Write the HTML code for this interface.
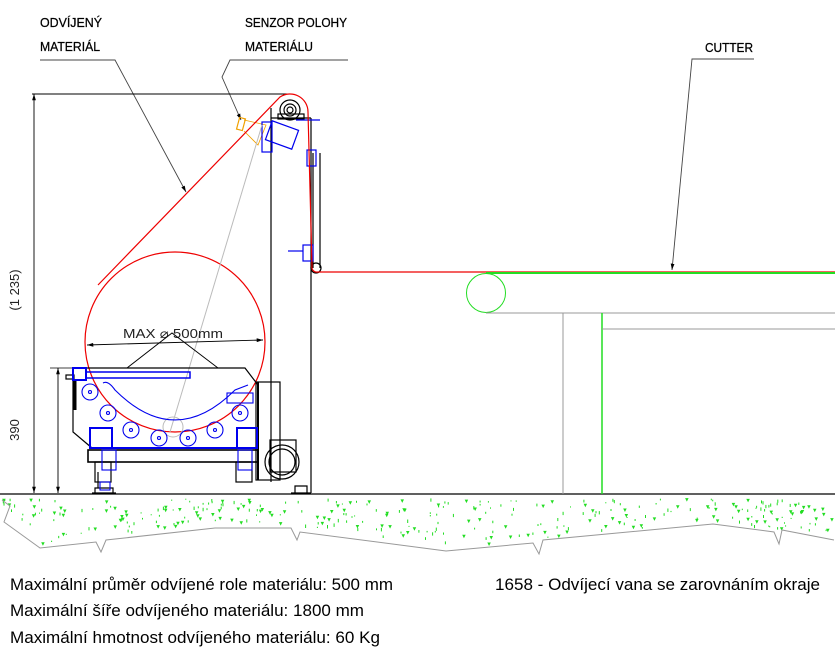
<!DOCTYPE html>
<html><head><meta charset="utf-8"><style>
html,body{margin:0;padding:0;background:#fff}
svg{display:block}
text{font-family:"Liberation Sans",Arial,sans-serif}
</style></head><body>
<svg id="s" width="835" height="663" viewBox="0 0 835 663" xmlns="http://www.w3.org/2000/svg">
<defs>
<marker id="a" viewBox="0 0 10 10" refX="10" refY="5" markerWidth="7" markerHeight="7" orient="auto-start-reverse"><path d="M0,2 L10,5 L0,8 z" fill="#000"/></marker>
</defs>
<g id="dots"></g>
<!-- ground -->
<line x1="0" y1="494" x2="835" y2="494" stroke="#000" stroke-width="1.3"/>
<polyline fill="none" stroke="#999" stroke-width="1" points="2,500 10,506 4,522 40,548 96,542 101,552 106,540 215,528 291,528 297,540 300,532 446,551 533,543 539,554 543,540 713,524 774,532 779,544 782,530 834,540"/>

<!-- labels -->
<g font-size="12.5" fill="#000" stroke="#000" stroke-width="0.25">
<text x="40" y="27" textLength="62" lengthAdjust="spacingAndGlyphs">ODVÍJENÝ</text>
<text x="40" y="51" textLength="60" lengthAdjust="spacingAndGlyphs">MATERIÁL</text>
<text x="245" y="27" textLength="102" lengthAdjust="spacingAndGlyphs">SENZOR POLOHY</text>
<text x="245" y="51" textLength="68" lengthAdjust="spacingAndGlyphs">MATERIÁLU</text>
<text x="705" y="52" textLength="48" lengthAdjust="spacingAndGlyphs">CUTTER</text>
</g>
<g stroke="#444" stroke-width="0.9" fill="none">
<polyline points="40,60 115,60 186,192" marker-end="url(#a)"/>
<polyline points="348,60 230,60 222,77 241,120" marker-end="url(#a)"/>
<polyline points="754,59 692,59 672,270" marker-end="url(#a)"/>
</g>

<!-- dimensions -->
<line x1="32" y1="94" x2="290" y2="94" stroke="#000" stroke-width="1"/>
<line x1="34" y1="94" x2="34" y2="493" stroke="#000" stroke-width="0.9" marker-start="url(#a)" marker-end="url(#a)"/>
<line x1="58" y1="368" x2="58" y2="493" stroke="#000" stroke-width="0.9" marker-start="url(#a)" marker-end="url(#a)"/>
<line x1="50" y1="368" x2="73" y2="368" stroke="#000" stroke-width="0.8"/>
<text transform="translate(19,290) rotate(-90)" font-size="13" text-anchor="middle" fill="#222">(1 235)</text>
<text transform="translate(19,430) rotate(-90)" font-size="13" text-anchor="middle" fill="#222">390</text>

<!-- frame -->
<g stroke="#000" stroke-width="1.2" fill="none">
<line x1="271" y1="108" x2="271" y2="482"/>
<line x1="311" y1="118" x2="311" y2="493"/>
<line x1="271" y1="118" x2="311" y2="118"/>
<line x1="313" y1="153" x2="313" y2="268"/>
<line x1="320" y1="153" x2="320" y2="268"/>
<circle cx="290" cy="110" r="10"/>
<circle cx="290" cy="110" r="6"/>
<circle cx="290" cy="110" r="3"/>
<rect x="278" y="114" width="26" height="5"/>
<circle cx="316" cy="268" r="5"/>
</g>
<!-- sensor -->
<rect x="238" y="118" width="6" height="12" fill="none" stroke="#f0a000" stroke-width="1.2" transform="rotate(15 241 124)"/>
<polyline points="244,120 266,125 258,145 244,131" fill="none" stroke="#f0a000" stroke-width="0.8"/>
<g stroke="#0000ee" stroke-width="1.2" fill="none">
<rect x="268" y="125" width="28" height="20" transform="rotate(20 282 135)"/>
<rect x="262" y="122" width="10" height="30"/>
<line x1="296" y1="120" x2="320" y2="120"/>
<rect x="307" y="150" width="9" height="16"/>
<rect x="303" y="245" width="10" height="16"/>
<line x1="288" y1="251" x2="303" y2="251"/>
</g>

<!-- red material -->
<g stroke="#ee0000" stroke-width="1.2" fill="none">
<circle cx="175" cy="342" r="90"/>
<path d="M98,285 L280,97 A18,18 0 0 1 308,112 L312,266 A5,5 0 0 0 318,272 L835,272"/>
</g>
<line x1="170" y1="432" x2="262" y2="125" stroke="#bbb" stroke-width="1"/>
<circle cx="173" cy="427" r="10" fill="none" stroke="#bbb" stroke-width="1"/>

<!-- MAX label -->
<text x="123" y="338" font-size="13" fill="#222" textLength="100" lengthAdjust="spacingAndGlyphs">MAX  ⌀  500mm</text>
<line x1="87" y1="345" x2="263" y2="340" stroke="#000" stroke-width="0.9" marker-start="url(#a)" marker-end="url(#a)"/>
<polyline points="127,368 172,333 218,368" fill="none" stroke="#000" stroke-width="0.9"/>

<!-- tray -->
<g stroke="#000" stroke-width="1.2" fill="none">
<polyline points="73,368 245,368 258,385"/>
<polyline points="73,368 73,432 92,448"/>
<rect x="88" y="450" width="170" height="12" stroke-width="1.6"/>
<line x1="92" y1="448" x2="258" y2="448" stroke="#0000ee" stroke-width="2"/>
<rect x="256" y="382" width="24" height="98"/>
<line x1="258" y1="382" x2="258" y2="480" stroke-width="2"/>
<circle cx="282" cy="462" r="17"/>
<circle cx="282" cy="462" r="13"/>
<rect x="270" y="440" width="26" height="32"/>
<rect x="95" y="462" width="16" height="20"/>
<rect x="236" y="462" width="16" height="20"/>
<path d="M95,488 h18 v5 h-18z M92,493 h24"/>
<path d="M295,486 h12 v7 h-12z M291,493 h20"/>
<line x1="98" y1="472" x2="98" y2="488"/>
<line x1="75" y1="380" x2="75" y2="410" stroke-width="3"/>
<rect x="66" y="375" width="8" height="4"/>
</g>
<g stroke="#0000ee" stroke-width="1.1" fill="none">
<rect x="73" y="368" width="13" height="12" stroke-width="2"/>
<rect x="86" y="372" width="104" height="6" stroke-width="1.5"/>
<path d="M103,383 Q108,380 115,390 Q175,450 235,390 L248,385"/>
<rect x="227" y="393" width="26" height="10"/>
<rect x="90" y="428" width="22" height="20" stroke-width="2"/>
<rect x="237" y="428" width="20" height="20" stroke-width="2"/>
<rect x="102" y="450" width="14" height="20"/>
<rect x="238" y="450" width="14" height="20"/>
<rect x="100" y="482" width="10" height="8"/>
<circle cx="90" cy="392" r="8"/><circle cx="108" cy="413" r="8"/><circle cx="131" cy="430" r="8"/>
<circle cx="159" cy="438" r="8"/><circle cx="188" cy="438" r="8"/><circle cx="215" cy="430" r="8"/><circle cx="240" cy="413" r="8"/>
<circle cx="90" cy="392" r="1.5"/><circle cx="108" cy="413" r="1.5"/><circle cx="131" cy="430" r="1.5"/>
<circle cx="159" cy="438" r="1.5"/><circle cx="188" cy="438" r="1.5"/><circle cx="215" cy="430" r="1.5"/><circle cx="240" cy="413" r="1.5"/>
</g>

<!-- conveyor -->
<g stroke="#22dd22" stroke-width="1.5" fill="none">
<line x1="486" y1="273" x2="835" y2="273" stroke-width="2"/>
<circle cx="486" cy="293" r="19.5" stroke-width="1"/>
<line x1="486" y1="313" x2="835" y2="313" stroke="#999" stroke-width="1"/>
<line x1="563" y1="313" x2="563" y2="494" stroke="#999" stroke-width="1"/>
<line x1="602" y1="313" x2="602" y2="494"/>
<line x1="602" y1="329" x2="835" y2="329" stroke="#999" stroke-width="1"/>
</g>

<!-- bottom text -->
<g font-size="16.5" fill="#000">
<text x="10" y="590" textLength="383" lengthAdjust="spacingAndGlyphs">Maximální průměr odvíjené role materiálu: 500 mm</text>
<text x="10" y="616" textLength="354" lengthAdjust="spacingAndGlyphs">Maximální šíře odvíjeného materiálu: 1800 mm</text>
<text x="10" y="643" textLength="370" lengthAdjust="spacingAndGlyphs">Maximální hmotnost odvíjeného materiálu: 60 Kg</text>
<text x="495" y="590" textLength="325" lengthAdjust="spacingAndGlyphs">1658 - Odvíjecí vana se zarovnáním okraje</text>
</g>
</svg>
<script>
(function(){var g=document.getElementById('dots'),s=12345,h='';
function r(){s=(s*16807)%2147483647;return s/2147483647;}
function bot(x){var p=[[0,505],[40,548],[96,542],[215,528],[291,528],[446,551],[533,543],[713,524],[774,532],[835,540]];for(var i=0;i<p.length-1;i++){if(x>=p[i][0]&&x<=p[i+1][0]){var t=(x-p[i][0])/(p[i+1][0]-p[i][0]);return p[i][1]+t*(p[i+1][1]-p[i][1]);}}return 540;}
for(var i=0;i<330;i++){var x=r()*835,b=bot(x)-4,y=498+r()*(b-498);if(y>b)continue;
if(r()<0.4){h+='<path d="M'+x.toFixed(1)+','+y.toFixed(1)+'l3.5,0l-1.75,3.5z" fill="#22dd22"/>';}else{h+='<rect x="'+x.toFixed(1)+'" y="'+y.toFixed(1)+'" width="1" height="'+(1+r()*2.5).toFixed(1)+'" fill="#22dd22"/>';}}
g.innerHTML=h;})();
</script>
</body></html>
